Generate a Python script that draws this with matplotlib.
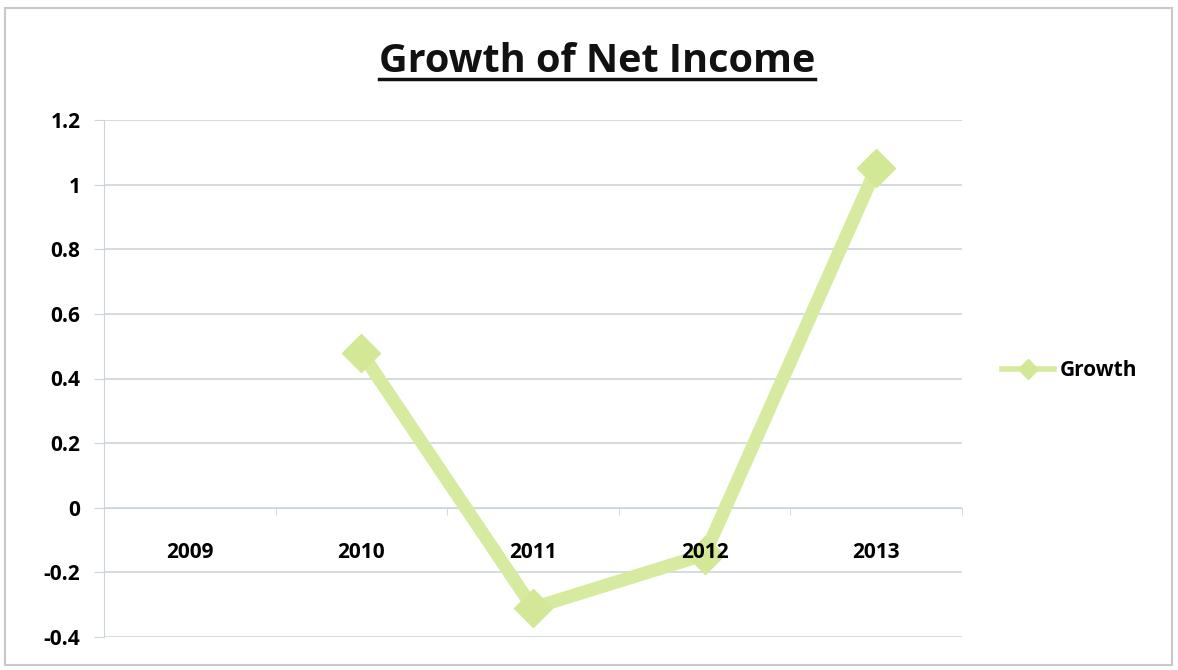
import matplotlib.pyplot as plt
from matplotlib.patches import Rectangle
from matplotlib.lines import Line2D
import numpy as np

years = ["2009", "2010", "2011", "2012", "2013"]
growth = [np.nan, 0.48, -0.31, -0.145, 1.05]
yticks = [-0.4, -0.2, 0, 0.2, 0.4, 0.6, 0.8, 1, 1.2]
ytick_labels = ["-0.4", "-0.2", "0", "0.2", "0.4", "0.6", "0.8", "1", "1.2"]

plt.rcParams['font.family'] = ['Open Sans', 'DejaVu Sans']

lineColor = '#d6eb9f'
gridColor = '#cdd5dc'

fig = plt.figure(figsize=(11.78, 6.70), dpi=100)
fig.patch.set_facecolor('white')
fig.patches.append(Rectangle((5 / 1178, 5 / 670), 1167 / 1178, 657 / 670,
                             transform=fig.transFigure, fill=False,
                             edgecolor='#c8c8c8', linewidth=1.5))

ax = fig.add_axes([104 / 1178, 1 - 637 / 670, 858 / 1178, 517 / 670])
x = np.arange(len(years)) + 0.5
ax.plot(x, growth, color=lineColor, linewidth=9.5, marker='D', markersize=19,
        markerfacecolor='#d2e897', markeredgecolor='#d2e897', label='Growth',
        solid_joinstyle='miter', zorder=2)

ax.set_xlim(0, 5)
ax.set_ylim(-0.4, 1.2)
ax.set_yticks(yticks)
ax.set_yticklabels(ytick_labels, fontsize=15, fontweight='bold')
ax.yaxis.grid(True, color=gridColor, linewidth=1.2)
ax.tick_params(axis='y', length=7, color=gridColor, pad=10)

ax.spines['bottom'].set_position(('data', 0))
ax.spines['bottom'].set_color(gridColor)
ax.spines['bottom'].set_zorder(1)
ax.spines['left'].set_color(gridColor)
ax.spines['top'].set_visible(False)
ax.spines['right'].set_visible(False)
ax.set_xticks(x)
ax.set_xticklabels(years, fontsize=15, fontweight='bold')
ax.tick_params(axis='x', which='major', length=0, pad=25)
ax.set_xticks(np.arange(0, 6), minor=True)
ax.tick_params(axis='x', which='minor', length=5, color=gridColor, direction='out')
ax.yaxis.set_zorder(0.5)
ax.xaxis.set_zorder(3)

leg = ax.legend(loc='center left', bbox_to_anchor=(1.025, 0.515), frameon=False,
                prop={'weight': 'bold', 'size': 15}, handlelength=2.5,
                handletextpad=0.25)
for h in leg.legend_handles:
    h.set_linewidth(4)
    h.set_markersize(10)

title = fig.text(0.5068, 1 - 72 / 670, "Growth of Net Income", ha='center', va='baseline',
                 fontsize=28.5, fontweight='bold', color='#111111')
fig.canvas.draw()
bb = title.get_window_extent().transformed(fig.transFigure.inverted())
uy = 1 - 79 / 670
fig.add_artist(Line2D([bb.x0, bb.x1], [uy, uy],
                      transform=fig.transFigure, color='#111111', linewidth=2.5))

fig.savefig('out.png', dpi=100)
